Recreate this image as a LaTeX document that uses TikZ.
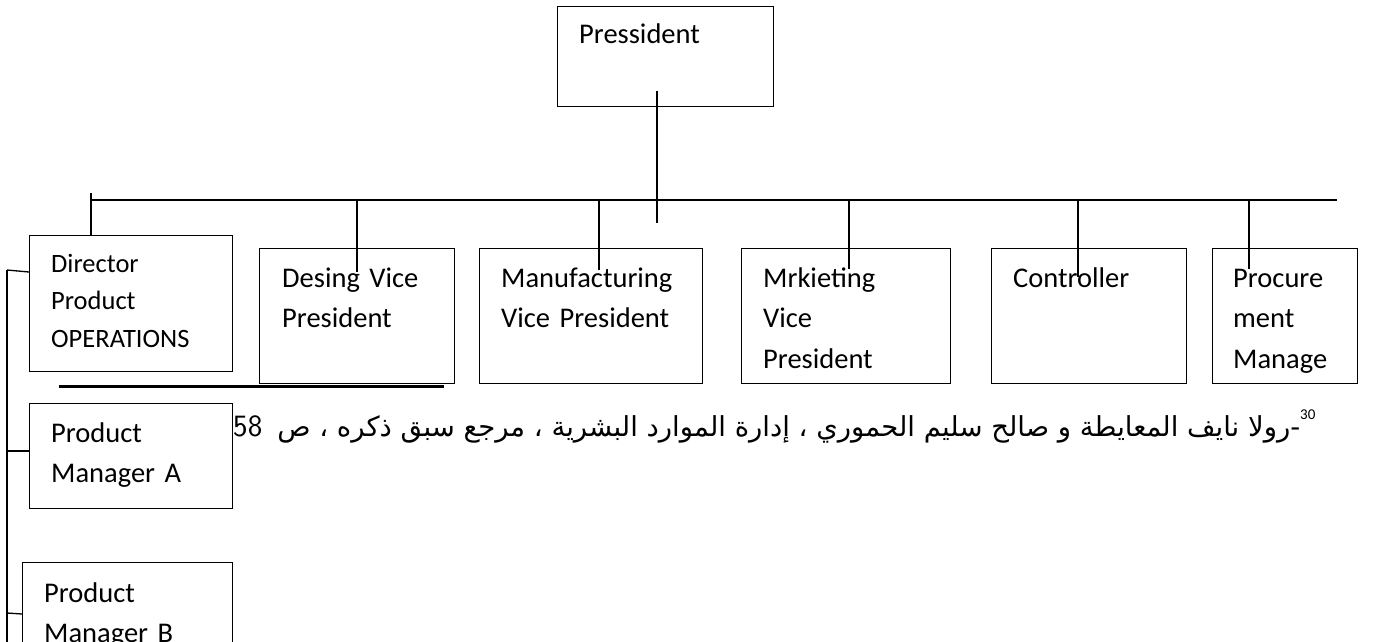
\documentclass[tikz,border=0pt]{standalone}
\usepackage{fontspec}
\setmainfont{Carlito}
\newfontfamily\arabicfont[Script=Arabic]{DejaVu Sans}
\TeXXeTstate=1
\tikzset{
  box/.style={draw, line width=1.3pt, anchor=north west, inner sep=0pt},
  lbl/.style={anchor=base west, inner sep=0pt, align=left,
    font=\fontsize{28.5}{40.5}\selectfont},
  lblsmall/.style={lbl, font=\fontsize{26.5}{37.5}\selectfont},
  wire/.style={line width=1.3pt},
}
\begin{document}
\begin{tikzpicture}[x=1pt,y=-1pt]
\clip (0,0) rectangle (1373,641);
\useasboundingbox (0,0) rectangle (1373,641);

% boxes
\node[box, minimum width=216pt, minimum height=100pt] (pres) at (557,6) {};
\node[box, minimum width=203pt, minimum height=136pt] (dir)  at (29,235) {};
\node[box, minimum width=195pt, minimum height=135pt] (des)  at (259,248) {};
\node[box, minimum width=223pt, minimum height=135pt] (man)  at (479,248) {};
\node[box, minimum width=209pt, minimum height=135pt] (mkt)  at (741,248) {};
\node[box, minimum width=195pt, minimum height=135pt] (ctl)  at (991,248) {};
\node[box, minimum width=145pt, minimum height=135pt] (proc) at (1212,248) {};
\node[box, minimum width=203pt, minimum height=105pt] (pma)  at (29,403) {};
\node[box, minimum width=210pt, minimum height=120pt] (pmb)  at (22,562) {};

% box texts
\node[lbl, text width=180pt] (tpres) at (579,43) {Pressident};
\node[lblsmall, text width=175pt] (tdir) at (51,272) {Director\\Product\\OPERATIONS};
\node[lbl, text width=170pt] (tdes) at (282,287) {Desing Vice\\President};
\node[lbl, text width=200pt] (tman) at (501,287) {Manufacturing\\Vice President};
\node[lbl, text width=180pt] (tmkt) at (763,287) {Mrkieting\\Vice\\President};
\node[lbl, text width=170pt] (tctl) at (1013,287) {Controller};
\begin{scope}
  \clip (1212,248) rectangle (1357,373);
  \node[lbl, text width=120pt] (tproc) at (1233,287) {Procure\\ment\\Manage};
\end{scope}
\node[lbl, text width=175pt] (tpma) at (51,442) {Product\\Manager A};
\node[lbl, text width=180pt] (tpmb) at (44,602) {Product\\Manager B};

% connector end points
\coordinate (ptop) at (657,91);
\coordinate (pbot) at (657,223);
\coordinate (busL) at (91,200);
\coordinate (busR) at (1337,200);
\coordinate (ddir) at (91,193);
\coordinate (ddes) at (357,200);  \coordinate (edes) at (357,272);
\coordinate (dman) at (599,200);  \coordinate (eman) at (599,270);
\coordinate (dmkt) at (849,200);  \coordinate (emkt) at (849,269);
\coordinate (dctl) at (1078,200); \coordinate (ectl) at (1078,277);
\coordinate (dproc) at (1249,200); \coordinate (eproc) at (1249,269);
\coordinate (spTop) at (7,270);
\coordinate (spBot) at (7,660);
\coordinate (indir) at (29,272);
\coordinate (spA) at (7,451);
\coordinate (spB) at (7,613);
\coordinate (inB) at (22,614);
\coordinate (ulL) at (59,386);
\coordinate (ulR) at (444,386);

% president line and bus
\draw[wire] (ptop) -- (pbot);
\draw[wire] (busL) -- (busR);
\draw[wire] (ddir) -- (ddir |- dir.north);
\draw[wire] (ddes) -- (edes);
\draw[wire] (dman) -- (eman);
\draw[wire] (dmkt) -- (emkt);
\draw[wire] (dctl) -- (ectl);
\draw[wire] (dproc) -- (eproc);

% left spine to the product boxes
\draw[wire] (spTop) -- (spBot);
\draw[wire] (spTop) -- (indir);
\draw[wire] (spA) -- (spA -| pma.west);
\draw[wire] (spB) -- (inB);

% rule under the first boxes
\draw[line width=3pt] (ulL) -- (ulR);

% footnote
\node[anchor=base west, inner sep=0pt] (note) at (233,436)
  {{\sffamily\fontsize{31}{36}\selectfont 58}\hspace{15pt}%
   {\arabicfont\fontsize{27.5}{32}\selectfont\beginR-رولا نايف المعايطة و صالح سليم الحموري ، إدارة الموارد البشرية ، مرجع سبق ذكره ، ص\endR}%
   \raisebox{17pt}{\fontsize{15}{17}\selectfont 30}};
\end{tikzpicture}
\end{document}
